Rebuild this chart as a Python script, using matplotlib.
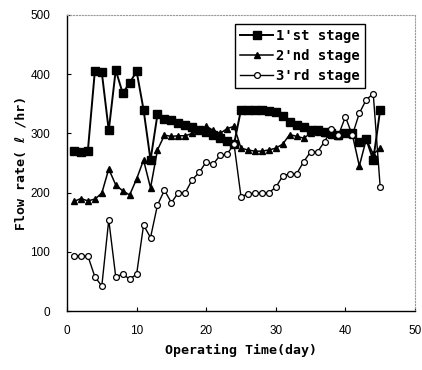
import matplotlib
matplotlib.use("Agg")
import matplotlib.pyplot as plt

# operating days
days = list(range(1, 46))

stage1 = [270, 268, 271, 405, 403, 305, 407, 368, 385, 405,
          340, 255, 332, 325, 322, 318, 314, 310, 306, 302,
          298, 292, 288, 282, 340, 340, 340, 340, 338, 336,
          330, 320, 315, 310, 305, 305, 303, 300, 298, 300,
          300, 285, 290, 255, 340]

stage2 = [185, 190, 186, 189, 199, 240, 213, 203, 196, 223,
          255, 208, 272, 297, 295, 296, 296, 300, 305, 312,
          305, 300, 308, 312, 275, 272, 270, 270, 272, 275,
          282, 298, 295, 292, 300, 302, 300, 298, 296, 300,
          298, 245, 290, 265, 275]

stage3 = [93, 93, 93, 58, 42, 154, 58, 62, 54, 62,
          145, 124, 179, 204, 183, 200, 200, 222, 234, 252,
          248, 263, 265, 282, 193, 198, 199, 199, 200, 209,
          228, 232, 232, 252, 269, 269, 286, 307, 297, 328,
          297, 334, 357, 367, 209]

x_ticks = [0, 10, 20, 30, 40, 50]
y_ticks = [0, 100, 200, 300, 400, 500]

label_font = ["DejaVu Sans Mono", "DejaVu Sans", "Noto Sans"]
tick_font = "Liberation Sans"

fig = plt.figure(figsize=(4.22, 3.70), dpi=100)
ax = fig.add_axes([67 / 422, 1 - 311 / 370, 348 / 422, 296 / 370])

ax.plot(days, stage1, color="black", linewidth=1.4, marker="s",
        markersize=5.5, markerfacecolor="black", label="1'st stage")
ax.plot(days, stage2, color="black", linewidth=1.1, marker="^",
        markersize=4.5, markerfacecolor="black", label="2'nd stage")
ax.plot(days, stage3, color="black", linewidth=1.0, marker="o",
        markersize=4.2, markerfacecolor="white", markeredgewidth=0.9,
        label="3'rd stage")

ax.set_xlim(0, 50)
ax.set_ylim(0, 500)
ax.set_xticks(x_ticks)
ax.set_yticks(y_ticks)
ax.tick_params(direction="in", length=3, width=0.8, labelsize=8.5)
ax.tick_params(axis="y", pad=12)
ax.tick_params(axis="x", pad=10)
for lab in ax.get_xticklabels() + ax.get_yticklabels():
    lab.set_fontfamily(tick_font)

for side in ["left", "bottom"]:
    ax.spines[side].set_color("black")
    ax.spines[side].set_linewidth(1.0)
for side in ["top", "right"]:
    ax.spines[side].set_color("#9a9a9a")
    ax.spines[side].set_linestyle(":")
    ax.spines[side].set_linewidth(0.8)

ax.set_xlabel("Operating Time(day)", family=label_font,
              fontweight="bold", fontsize=9.5, labelpad=5)
ax.set_ylabel("Flow rate( ℓ /hr)", family=label_font,
              fontweight="bold", fontsize=9.5, labelpad=2)

leg = ax.legend(loc="upper left", bbox_to_anchor=(0.483, 0.97),
                borderaxespad=0,
                prop={"family": label_font, "weight": "bold", "size": 10},
                handlelength=2.4, handletextpad=0.2, labelspacing=0.45,
                borderpad=0.35, fancybox=False, framealpha=1)
leg.get_frame().set_edgecolor("black")
leg.get_frame().set_linewidth(1.0)

fig.savefig("out.png", dpi=100)
